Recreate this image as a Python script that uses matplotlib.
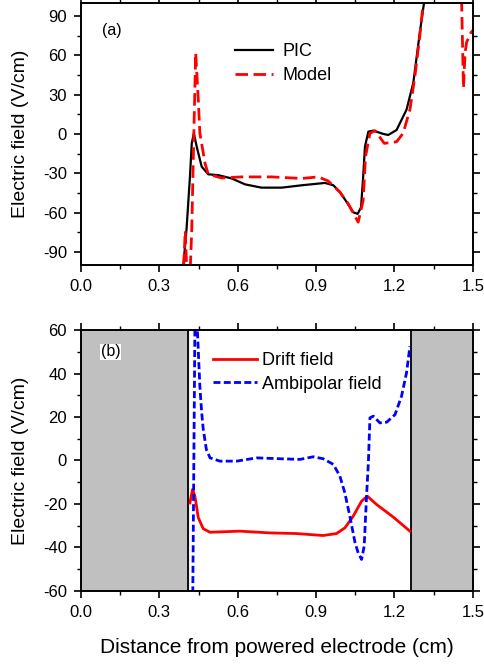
import numpy as np
import matplotlib
matplotlib.use('Agg')
import matplotlib.pyplot as plt
from matplotlib.ticker import MultipleLocator

plt.rcParams['font.family'] = ['Liberation Sans', 'DejaVu Sans']
plt.rcParams['axes.unicode_minus'] = False

# (a) PIC vs model electric field
pic_x = [0.380, 0.392, 0.404, 0.417, 0.424, 0.432, 0.443, 0.462, 0.487, 0.526, 0.577,
         0.628, 0.691, 0.768, 0.845, 0.934, 0.966, 0.991, 1.017, 1.042, 1.059, 1.072,
         1.080, 1.087, 1.100, 1.119, 1.157, 1.176, 1.208, 1.246, 1.272, 1.297, 1.313, 1.330]
pic_y = [-130, -100, -72.6, -32.8, -7.2, 0.5, -9.8, -25, -30.8, -31.5, -34,
         -38.5, -41, -41, -39.2, -37.4, -39.2, -44.4, -52, -59.8, -61, -56,
         -32.8, -9.7, 1.8, 2.5, 0, -0.8, 3, 18.5, 39, 77.5, 100, 130]

model_x = [0.390, 0.399, 0.407, 0.416, 0.424, 0.434, 0.439, 0.449, 0.455, 0.475, 0.487,
           0.538, 0.615, 0.730, 0.845, 0.908, 0.946, 0.991, 1.023, 1.061, 1.080, 1.089,
           1.106, 1.125, 1.161, 1.208, 1.233, 1.259, 1.278, 1.297, 1.310, 1.330, 1.440,
           1.457, 1.464, 1.470, 1.476, 1.493, 1.500]
model_y = [-115, -74, -115, -115, -72.6, 18.5, 62, 26, 0.5, -22.5, -30.8,
           -33.6, -32.8, -32.8, -34, -32.8, -35.9, -44.4, -53.3, -67.4, -50.8, -17.4,
           0.5, 2.5, -7.2, -6, 0.5, 18.5, 44, 75, 100, 140, 140,
           100, 35, 62, 70, 77.5, 79]

# (b) drift and ambipolar fields
drift_x = [0.417, 0.427, 0.436, 0.449, 0.468, 0.494, 0.608, 0.723, 0.825, 0.927, 0.978,
           1.010, 1.042, 1.074, 1.096, 1.131, 1.195, 1.259]
drift_y = [-19.5, -13.3, -16.4, -26.3, -31.4, -33, -32.5, -33.3, -33.6, -34.5, -33.6,
           -31, -25.6, -18.7, -16.4, -20.2, -26, -32.5]

ambi_x = [0.424, 0.428, 0.432, 0.436, 0.441, 0.447, 0.455, 0.462, 0.468, 0.480, 0.494,
          0.532, 0.596, 0.672, 0.762, 0.838, 0.889, 0.927, 0.966, 0.991, 1.010, 1.029,
          1.049, 1.061, 1.074, 1.084, 1.093, 1.100, 1.106, 1.119, 1.144, 1.170, 1.202,
          1.227, 1.246, 1.259]
ambi_y = [-80, -60, 0, 62, 70, 56, 34, 22, 14.3, 5, 1.2,
          -0.3, -0.3, 1.2, 0.8, 0.5, 1.7, 0.8, -1.8, -7.2, -14.9, -25.6,
          -37.8, -42.5, -45.5, -39.4, -16.4, -1, 19.6, 20.4, 17.3, 17.6, 21.1,
          29.6, 40.3, 52.5]

electrode_left = 0.41
electrode_right = 1.263

fig = plt.figure(figsize=(4.85, 6.64), dpi=100)
ax1 = fig.add_axes([0.167, 0.601, 0.808, 0.3946])
ax2 = fig.add_axes([0.167, 0.110, 0.808, 0.393])

ax1.plot(pic_x, pic_y, color='black', lw=1.6, label='PIC')
ax1.plot(model_x, model_y, color='red', lw=2, ls=(0, (4.5, 2)), label='Model')
ax1.set_ylim(-100, 100)
ax1.yaxis.set_major_locator(MultipleLocator(30))
ax1.yaxis.set_minor_locator(MultipleLocator(15))
ax1.text(0.054, 0.893, '(a)', transform=ax1.transAxes, fontsize=11.5, va='center')
ax1.legend(loc='upper left', bbox_to_anchor=(0.393, 0.846), frameon=False, fontsize=13,
           handlelength=2.1, handletextpad=0.55, labelspacing=0.4, borderaxespad=0,
           borderpad=0)

ax2.axvspan(0, electrode_left, color='#c0c0c0', zorder=0)
ax2.axvspan(electrode_right, 1.5, color='#c0c0c0', zorder=0)
ax2.axvline(electrode_left, color='black', lw=1.3, zorder=1)
ax2.axvline(electrode_right, color='black', lw=1.3, zorder=1)
ax2.plot(drift_x, drift_y, color='red', lw=2, label='Drift field')
ax2.plot(ambi_x, ambi_y, color='blue', lw=2, ls=(0, (2.5, 1.2)), label='Ambipolar field')
ax2.set_ylim(-60, 60)
ax2.yaxis.set_major_locator(MultipleLocator(20))
ax2.yaxis.set_minor_locator(MultipleLocator(10))
ax2.text(0.05, 0.916, '(b)', transform=ax2.transAxes, fontsize=11.5, va='center',
         bbox=dict(facecolor='white', edgecolor='none', pad=0.5))
ax2.legend(loc='upper left', bbox_to_anchor=(0.338, 0.915), frameon=False, fontsize=13,
           handlelength=2.4, handletextpad=0.3, labelspacing=0.35, borderaxespad=0,
           borderpad=0)
ax2.set_xlabel('Distance from powered electrode (cm)', fontsize=15, labelpad=13)

for ax in (ax1, ax2):
    ax.set_xlim(0, 1.5)
    ax.xaxis.set_major_locator(MultipleLocator(0.3))
    ax.xaxis.set_minor_locator(MultipleLocator(0.15))
    ax.xaxis.set_major_formatter(plt.FormatStrFormatter('%.1f'))
    ax.tick_params(which='major', direction='out', length=5, width=1.2, labelsize=12,
                   top=True, right=True, pad=5)
    ax.tick_params(which='minor', direction='out', length=3, width=1.0,
                   top=True, right=True)
    for s in ax.spines.values():
        s.set_linewidth(1.4)
    ax.set_ylabel('Electric field (V/cm)', fontsize=14, labelpad=10)

fig.savefig('out.png', dpi=100)
